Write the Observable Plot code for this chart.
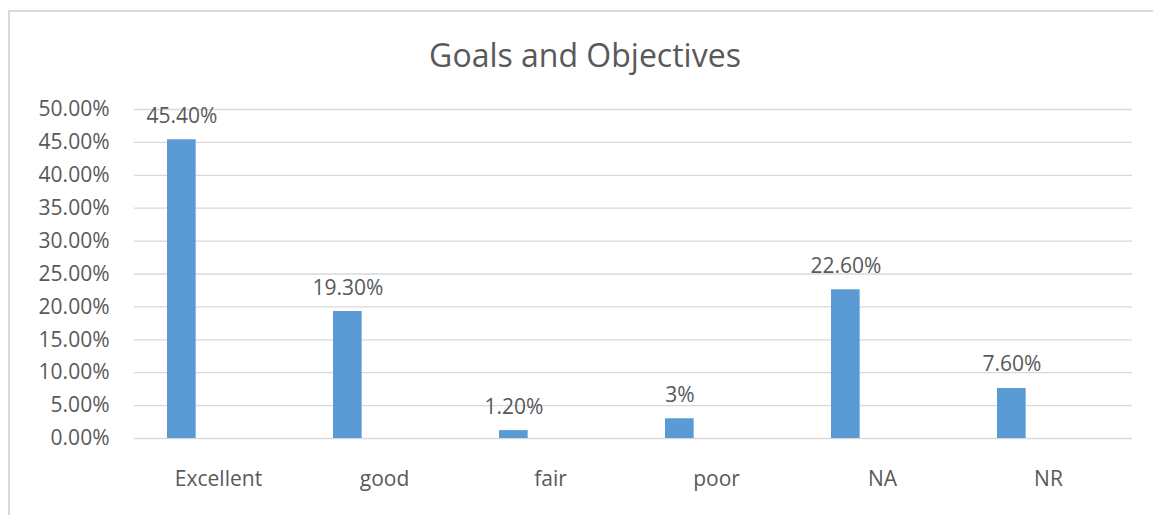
<!DOCTYPE html>
<html>
<head>
<meta charset="utf-8">
<script src="https://cdn.jsdelivr.net/npm/d3@7"></script>
<script src="https://cdn.jsdelivr.net/npm/@observablehq/plot@0.6"></script>
<style>
  html, body { margin: 0; padding: 0; background: #fff; }
  #frame {
    position: absolute; left: 8px; top: 10px; width: 1160px; height: 520px;
    border-left: 2px solid #d9d9d9; border-top: 2px solid #d9d9d9;
    box-sizing: border-box; z-index: 2; pointer-events: none;
  }
  #chart { position: absolute; left: 0; top: 0; width: 1153px; z-index: 1; }
  #title {
    width: 1170px; height: 88px; text-align: center;
    font-family: "Open Sans", sans-serif; font-size: 32px; color: #595959;
    line-height: 30px; padding-top: 40px; box-sizing: border-box;
  }
</style>
</head>
<body>
<div id="frame"></div>
<div id="chart">
  <div id="title">Goals and Objectives</div>
</div>
<script>
const categories = ["Excellent", "good", "fair", "poor", "NA", "NR"];
const values = [45.4, 19.3, 1.2, 3, 22.6, 7.6];
const valueLabels = ["45.40%", "19.30%", "1.20%", "3%", "22.60%", "7.60%"];
const yTicks = [0, 5, 10, 15, 20, 25, 30, 35, 40, 45, 50];

const data = categories.map((c, i) => ({cat: c, value: values[i], label: valueLabels[i]}));
const barColor = "#5b9bd5";
const textColor = "#595959";
const bandW = (1132 - 134) / categories.length;
const inL = 32, inR = bandW - 61;

const plot = Plot.plot({
  width: 1153,
  height: 427,
  marginLeft: 134,
  marginRight: 21,
  marginTop: 21,
  marginBottom: 77,
  style: {fontFamily: "'Open Sans', sans-serif", fontSize: "21px", color: textColor, background: "transparent"},
  x: {type: "band", domain: categories, padding: 0, label: null},
  y: {domain: [0, 50], label: null},
  marks: [
    Plot.ruleY(yTicks, {stroke: "#d9d9d9", strokeWidth: 1.3}),
    Plot.barY(data, {x: "cat", y: "value", fill: barColor, insetLeft: inL, insetRight: inR}),
    Plot.text(data, {x: "cat", y: "value", text: "label", dx: (inL - inR) / 2, dy: -17,
      lineAnchor: "bottom", fill: textColor, fontSize: 21}),
    Plot.axisY({ticks: yTicks, tickFormat: d => d.toFixed(2) + "%", tickSize: 0, tickPadding: 25,
      fill: textColor, fontSize: 21, label: null}),
    Plot.axisX({tickSize: 0, tickPadding: 33, fill: textColor, fontSize: 21, label: null})
  ]
});
document.getElementById("chart").appendChild(plot);
</script>
</body>
</html>
